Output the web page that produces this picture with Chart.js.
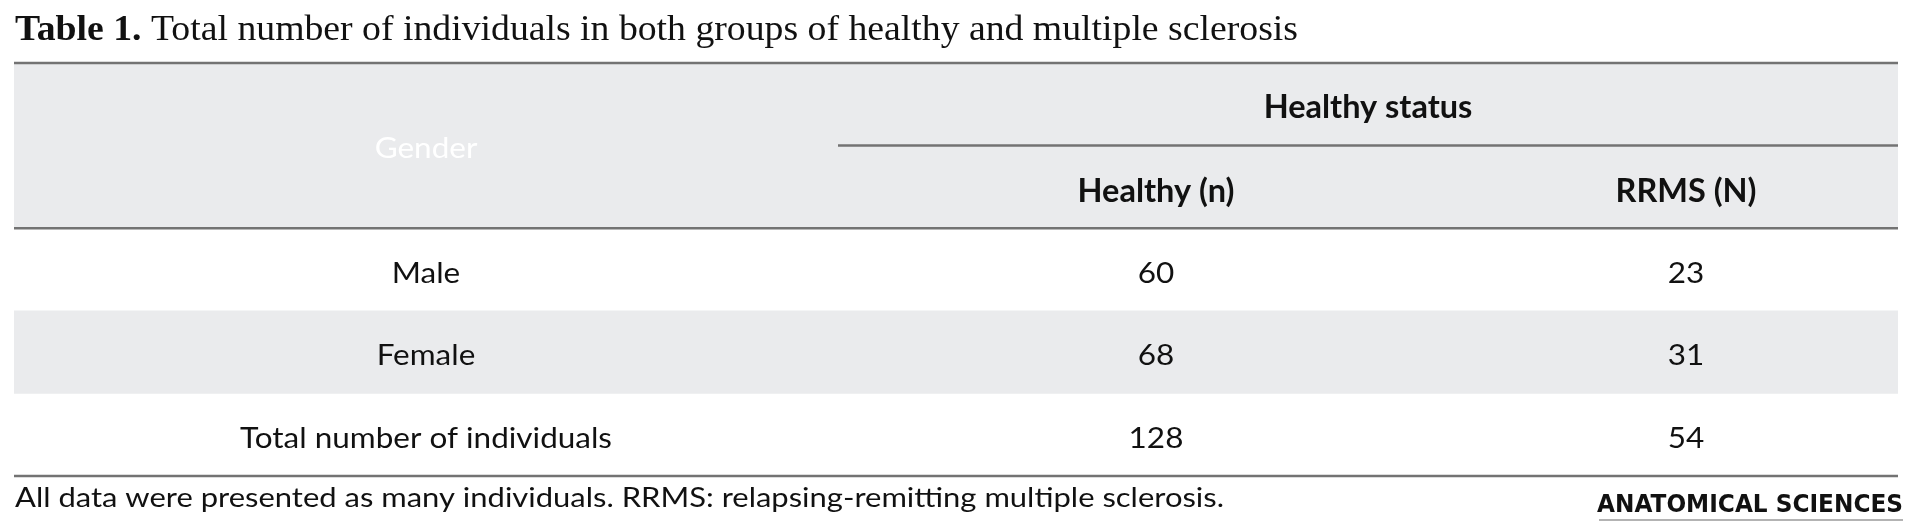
<!DOCTYPE html>
<html>
<head>
<meta charset="utf-8">
<title>Table 1</title>
<script src="https://cdn.jsdelivr.net/npm/chart.js@4.4.1/dist/chart.umd.min.js"></script>
<style>
    html, body { margin: 0; padding: 0; background: #ffffff; overflow: hidden; }
    canvas { display: block; }
</style>
</head>
<body>
<canvas id="tableChart" width="1923" height="532"></canvas>
<script>
// Table content
const titleBold = "Table 1.";
const titleText = " Total number of individuals in both groups of healthy and multiple sclerosis";
const stubHeader = "Gender";
const groupHeader = "Healthy status";
const columnHeaders = ["Healthy (n)", "RRMS (N)"];
const rowLabels = ["Male", "Female", "Total number of individuals"];
const healthyCounts = [60, 68, 128];
const rrmsCounts = [23, 31, 54];
const noteText = "All data were presented as many individuals. RRMS: relapsing-remitting multiple sclerosis.";
const logoText = "ANATOMICAL SCIENCES";

document.addEventListener("DOMContentLoaded", function () {

    // layout (x units = pixels across the table)
    const tableWidth = 1884;
    const colEdges = [0, 824, 1460, tableWidth];
    const headerRows = 2;
    const ruleColor = "#737373";
    const shade = "#eaebed";

    const fonts = {
        title: "35px 'Liberation Serif'",
        titleBold: "bold 35px 'Liberation Serif'",
        head: "bold 33px Lato",
        body: "28px Lato",
        note: "26px Lato",
        logo: "bold 24px 'DejaVu Sans'"
    };

    const rows = ["", ""].concat(rowLabels);
    const columns = [healthyCounts, rrmsCounts];

    // header rows and every second body row are shaded
    const shadeData = rows.map((r, i) => (i < headerRows || (i - headerRows) % 2 === 1) ? [0, tableWidth] : null);

    const ctx = document.getElementById("tableChart").getContext("2d");

    const widthOf = (text, font) => {
        ctx.save();
        ctx.font = font;
        const w = ctx.measureText(text).width;
        ctx.restore();
        return w;
    };

    // squeeze substitute fonts to the widths seen in the picture
    const bodyScale = 372 / widthOf(rowLabels[2], fonts.body);
    const headScale = 141 / widthOf(columnHeaders[1], fonts.head);
    const noteScale = 1209 / widthOf(noteText, fonts.note);
    const titleScale = 1283 / (widthOf(titleBold, fonts.titleBold) + widthOf(titleText, fonts.title));
    const logoScale = 306 / widthOf(logoText, fonts.logo);

    const drawLabel = (c, text, x, y, font, color, align, sx) => {
        c.save();
        c.font = font;
        c.fillStyle = color;
        c.textAlign = "left";
        c.textBaseline = "alphabetic";
        const w = c.measureText(text).width * sx;
        const left = align === "center" ? x - w / 2 : (align === "right" ? x - w : x);
        c.translate(left, y);
        c.scale(sx, 1);
        c.fillText(text, 0, 0);
        c.restore();
        return w;
    };

    const hLine = (c, x1, x2, y, width, color) => {
        c.save();
        c.strokeStyle = color;
        c.lineWidth = width;
        c.beginPath();
        c.moveTo(x1, y);
        c.lineTo(x2, y);
        c.stroke();
        c.restore();
    };

    const tablePlugin = {
        id: "tableText",
        beforeDraw(chart) {
            const c = chart.ctx;
            c.save();
            c.fillStyle = "#ffffff";
            c.fillRect(0, 0, chart.width, chart.height);
            c.restore();
        },
        afterDatasetsDraw(chart) {
            const c = chart.ctx;
            const { chartArea, scales: { x, y } } = chart;
            const colCenter = (i) => x.getPixelForValue((colEdges[i] + colEdges[i + 1]) / 2);

            // title
            const tx = chartArea.left + 1;
            const ty = chartArea.top - 23;
            const bw = drawLabel(c, titleBold, tx, ty, fonts.titleBold, "#111111", "left", titleScale);
            drawLabel(c, titleText, tx + bw, ty, fonts.title, "#111111", "left", titleScale);

            // rules
            hLine(c, chartArea.left, chartArea.right, y.getPixelForValue(-0.5), 2.5, ruleColor);
            hLine(c, x.getPixelForValue(colEdges[1]), chartArea.right, y.getPixelForValue(0.5), 2.5, ruleColor);
            hLine(c, chartArea.left, chartArea.right, y.getPixelForValue(headerRows - 0.5), 2.5, ruleColor);
            hLine(c, chartArea.left, chartArea.right, y.getPixelForValue(rows.length - 0.5), 2.5, ruleColor);

            // header
            drawLabel(c, stubHeader, colCenter(0), y.getPixelForValue(0.5) + 12, fonts.body, "#ffffff", "center", bodyScale);
            drawLabel(c, groupHeader, (x.getPixelForValue(colEdges[1]) + chartArea.right) / 2, y.getPixelForValue(0) + 14, fonts.head, "#111111", "center", headScale);
            columnHeaders.forEach((h, i) => {
                drawLabel(c, h, colCenter(i + 1), y.getPixelForValue(1) + 15, fonts.head, "#111111", "center", headScale);
            });

            // body cells
            rowLabels.forEach((label, r) => {
                const yy = y.getPixelForValue(r + headerRows) + 13;
                drawLabel(c, label, colCenter(0), yy, fonts.body, "#111111", "center", bodyScale);
                columns.forEach((vals, i) => {
                    drawLabel(c, String(vals[r]), colCenter(i + 1), yy, fonts.body, "#111111", "center", bodyScale);
                });
            });

            // footnote and journal mark
            drawLabel(c, noteText, chartArea.left + 1, chartArea.bottom + 31, fonts.note, "#111111", "left", noteScale);
            drawLabel(c, logoText, chartArea.right + 5, chartArea.bottom + 36, fonts.logo, "#111111", "right", logoScale);
            hLine(c, chartArea.right + 5 - 304, chartArea.right + 5, chartArea.bottom + 44, 1.5, "#9a9a9a");
        }
    };

    new Chart(ctx, {
        type: "bar",
        data: {
            labels: rows,
            datasets: [{
                label: "shading",
                data: shadeData,
                backgroundColor: shade,
                borderWidth: 0,
                barPercentage: 1,
                categoryPercentage: 1
            }]
        },
        options: {
            indexAxis: "y",
            responsive: false,
            maintainAspectRatio: false,
            devicePixelRatio: 1,
            animation: false,
            events: [],
            layout: { padding: { left: 14, right: 25, top: 63, bottom: 56 } },
            scales: {
                x: { type: "linear", min: 0, max: tableWidth, display: false },
                y: { type: "category", display: false, offset: true, grid: { display: false } }
            },
            plugins: {
                legend: { display: false },
                tooltip: { enabled: false },
                title: { display: false }
            }
        },
        plugins: [tablePlugin]
    });
});
</script>
</body>
</html>
